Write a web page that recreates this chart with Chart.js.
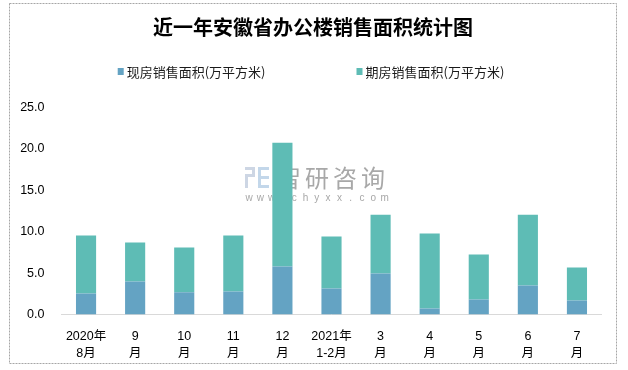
<!DOCTYPE html>
<html>
<head>
<meta charset="utf-8">
<script src="https://cdn.jsdelivr.net/npm/chart.js@4/dist/chart.umd.min.js"></script>
<style>
  html, body { margin: 0; padding: 0; background: #fff; }
  #wrap { width: 628px; height: 370px; position: relative; }
</style>
</head>
<body>
<div id="wrap"><canvas id="salesChart" width="628" height="370"></canvas></div>
<script>
// Data (万平方米)
const months = [
  ['2020年', '8月'], ['9', '月'], ['10', '月'], ['11', '月'], ['12', '月'],
  ['2021年', '1-2月'], ['3', '月'], ['4', '月'], ['5', '月'], ['6', '月'], ['7', '月']
];
const spotSales = [2.53, 3.98, 2.69, 2.77, 5.79, 3.14, 4.95, 0.72, 1.81, 3.50, 1.69];
const futureSales = [7.00, 4.71, 5.39, 6.76, 14.96, 6.27, 7.11, 9.05, 5.43, 8.56, 3.98];
const yTicks = [0, 5, 10, 15, 20, 25];

const TITLE = '近一年安徽省办公楼销售面积统计图';
const SANS = '"Liberation Sans", "Noto Sans CJK SC", sans-serif';

// Frame, title and legend drawn around the chart
const decor = {
  id: 'decor',
  beforeDraw(chart) {
    const ctx = chart.ctx;
    ctx.save();
    ctx.fillStyle = '#fff';
    ctx.fillRect(0, 0, chart.width, chart.height);
    ctx.strokeStyle = '#a6a6a6';
    ctx.lineWidth = 1;
    ctx.setLineDash([2, 1]);
    ctx.strokeRect(9.5, 3.5, 607, 360);
    ctx.restore();
  },
  afterDraw(chart) {
    const ctx = chart.ctx;
    ctx.save();
    // title
    ctx.fillStyle = '#000';
    ctx.font = 'bold 20px "Noto Sans CJK SC", sans-serif';
    ctx.textAlign = 'center';
    ctx.textBaseline = 'middle';
    ctx.fillText(TITLE, 313, 27);

    // legend
    ctx.font = '13px "Noto Sans CJK SC", sans-serif';
    ctx.textAlign = 'left';
    const sets = chart.data.datasets;
    const gap = 91, box = 6, boxGap = 3;
    const widths = sets.map(d => box + boxGap + ctx.measureText(d.label).width);
    const total = widths.reduce((a, b) => a + b, 0) + gap * (sets.length - 1);
    let x = 311 - total / 2;
    sets.forEach((d, i) => {
      ctx.fillStyle = d.backgroundColor;
      ctx.fillRect(x, 68, box, 7);
      ctx.fillStyle = '#1a1a1a';
      ctx.fillText(d.label, x + box + boxGap, 72);
      x += widths[i] + gap;
    });
    ctx.restore();
  }
};

// Watermark sits behind the bars
const watermark = {
  id: 'watermark',
  beforeDatasetsDraw(chart) {
    const ctx = chart.ctx;
    ctx.save();
    ctx.fillStyle = '#cdd6e4';
    ctx.fillRect(245, 167, 10, 3);
    ctx.fillRect(252, 167, 3, 10);
    ctx.fillRect(245, 174, 10, 3);
    ctx.fillRect(245, 174, 3, 14);
    ctx.fillStyle = '#c3d7ea';
    ctx.fillRect(258, 167, 11, 3);
    ctx.fillRect(258, 167, 3, 21);
    ctx.fillRect(258, 176, 11, 3);
    ctx.fillRect(258, 185, 11, 3);
    ctx.fillStyle = '#a8a8a8';
    ctx.font = '24px "Noto Sans CJK SC", sans-serif';
    ctx.textBaseline = 'middle';
    ctx.textAlign = 'left';
    '智研咨询'.split('').forEach((c, i) => ctx.fillText(c, 277 + i * 28, 178));
    ctx.font = '10px ' + SANS;
    ctx.textAlign = 'center';
    'www.chyxx.com'.split('').forEach((c, i) => ctx.fillText(c, 249 + i * 11.3, 198));
    ctx.restore();
  }
};

new Chart(document.getElementById('salesChart'), {
  type: 'bar',
  data: {
    labels: months,
    datasets: [
      { label: '现房销售面积(万平方米)', data: spotSales, backgroundColor: '#64a3c3' },
      { label: '期房销售面积(万平方米)', data: futureSales, backgroundColor: '#5ebcb5' }
    ]
  },
  options: {
    responsive: false,
    animation: false,
    layout: { padding: { top: 107.5, right: 26.5, left: 0, bottom: 0 } },
    datasets: { bar: { barPercentage: 0.41, categoryPercentage: 1 } },
    plugins: {
      legend: { display: false },
      title: { display: false },
      tooltip: { enabled: false }
    },
    scales: {
      x: {
        stacked: true,
        grid: { display: false, drawTicks: false },
        border: { display: true, color: '#d9d9d9', width: 1 },
        ticks: { color: '#000', font: { size: 12.5, family: SANS, lineHeight: 1.4 }, padding: 13, maxRotation: 0, autoSkip: false },
        afterFit: s => { s.height = 55.5; }
      },
      y: {
        stacked: true,
        min: 0,
        max: 25,
        afterBuildTicks: s => { s.ticks = yTicks.map(v => ({ value: v })); },
        grid: { display: false, drawTicks: false },
        border: { display: false },
        ticks: { color: '#000', font: { size: 12.5, family: SANS }, padding: 17, callback: v => v.toFixed(1) },
        afterFit: s => { s.width = 61.5; }
      }
    }
  },
  plugins: [decor, watermark]
});
</script>
</body>
</html>
